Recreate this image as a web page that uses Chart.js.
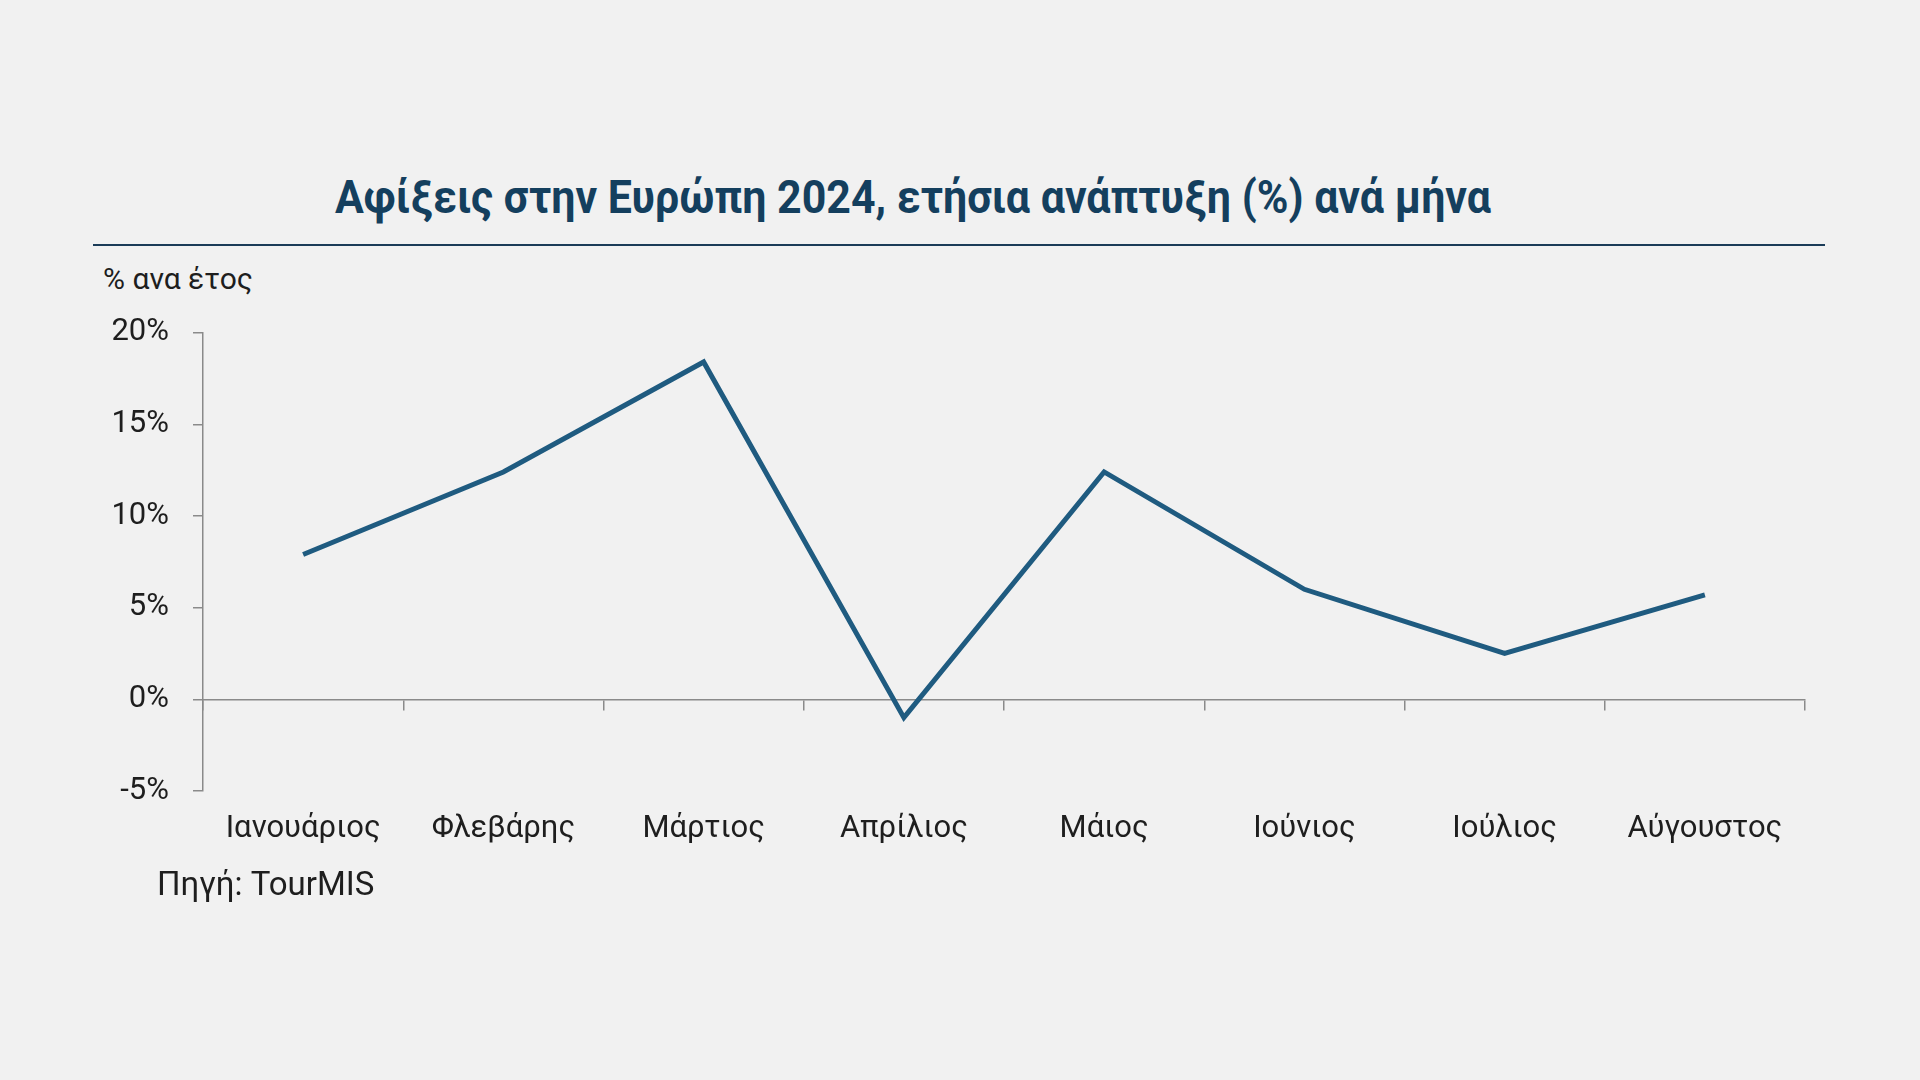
<!DOCTYPE html>
<html lang="el">
<head>
<meta charset="utf-8">
<title>Αφίξεις στην Ευρώπη 2024</title>
<script src="https://cdn.jsdelivr.net/npm/chart.js@4/dist/chart.umd.min.js"></script>
<style>
  html, body { margin: 0; padding: 0; }
  body { width: 1920px; height: 1080px; background: #f1f1f1; position: relative; overflow: hidden; font-family: Roboto, "Noto Sans", sans-serif; }
  #title { position: absolute; left: 913px; top: 170px; transform-origin: 0 0; font-family: Roboto, sans-serif; font-weight: 700; font-size: 46px; color: #143f5e; white-space: nowrap; }
  #rule { position: absolute; left: 93px; top: 244px; width: 1732px; height: 0; border-top: 2px solid #1b3c58; }
  #unit { position: absolute; left: 103px; top: 261px; font-size: 30px; color: #1e1e1e; }
  #source { position: absolute; left: 157px; top: 864px; font-size: 33px; color: #1e1e1e; }
  #wrap { position: absolute; left: 60px; top: 290px; width: 1780px; height: 610px; }
</style>
</head>
<body>
<div id="title">Αφίξεις στην Ευρώπη 2024, ετήσια ανάπτυξη (%) ανά μήνα</div>
<div id="rule"></div>
<div id="unit">% ανα έτος</div>
<div id="wrap"><canvas id="chartAfixeis"></canvas></div>
<div id="source">Πηγή: TourMIS</div>
<script>
// μήνες 2024 και ετήσια μεταβολή αφίξεων (%)
const months = ['Ιανουάριος', 'Φλεβάρης', 'Μάρτιος', 'Απρίλιος', 'Μάιος', 'Ιούνιος', 'Ιούλιος', 'Αύγουστος'];
const growth = [7.9, 12.4, 18.4, -1.0, 12.4, 6.0, 2.5, 5.7];
const yTicks = [-5, 0, 5, 10, 15, 20];

const axisGrey = '#8a8a8a';
const textColor = '#1e1e1e';

// ο τίτλος στο πρωτότυπο είναι condensed — στενεύουμε τη Roboto ώστε να πιάνει ~1156px
(function fitTitle() {
  const t = document.getElementById('title');
  const w = t.getBoundingClientRect().width;
  const k = 1156 / w;
  t.style.transform = `translateX(${-578}px) scaleX(${k})`;
})();

new Chart(document.getElementById('chartAfixeis'), {
  type: 'line',
  data: {
    labels: months,
    datasets: [{
      data: growth,
      xAxisID: 'x',
      borderColor: '#1f5b80',
      borderWidth: 5,
      tension: 0,
      pointRadius: 0,
      fill: false,
    }],
  },
  options: {
    responsive: true,
    maintainAspectRatio: false,
    animation: false,
    layout: { padding: { top: 23, right: 35, left: 0, bottom: 0 } },
    plugins: {
      legend: { display: false },
      tooltip: { enabled: false },
    },
    scales: {
      x: {
        type: 'category',
        position: { y: 0 },
        offset: true,
        grid: { offset: true, drawOnChartArea: false, drawTicks: true, tickLength: 10, color: axisGrey, lineWidth: 1.5 },
        border: { display: true, color: axisGrey, width: 1.5 },
        ticks: { display: false },
      },
      x2: {
        type: 'category',
        position: 'bottom',
        labels: months,
        offset: true,
        grid: { display: false },
        border: { display: false },
        ticks: { color: textColor, font: { family: 'Roboto', size: 31 }, padding: 12, maxRotation: 0, autoSkip: false },
        afterFit: (s) => { s.height = 109; },
      },
      y: {
        min: yTicks[0],
        max: yTicks[yTicks.length - 1],
        afterBuildTicks: (s) => { s.ticks = yTicks.map((v) => ({ value: v })); },
        grid: { drawOnChartArea: false, drawTicks: true, tickLength: 10, color: axisGrey, lineWidth: 1.5 },
        border: { display: true, color: axisGrey, width: 1.5 },
        ticks: { color: textColor, font: { family: 'Roboto', size: 31 }, padding: 24, callback: (v) => v + '%' },
        afterFit: (s) => { s.width = 143; },
      },
    },
  },
});
</script>
</body>
</html>
